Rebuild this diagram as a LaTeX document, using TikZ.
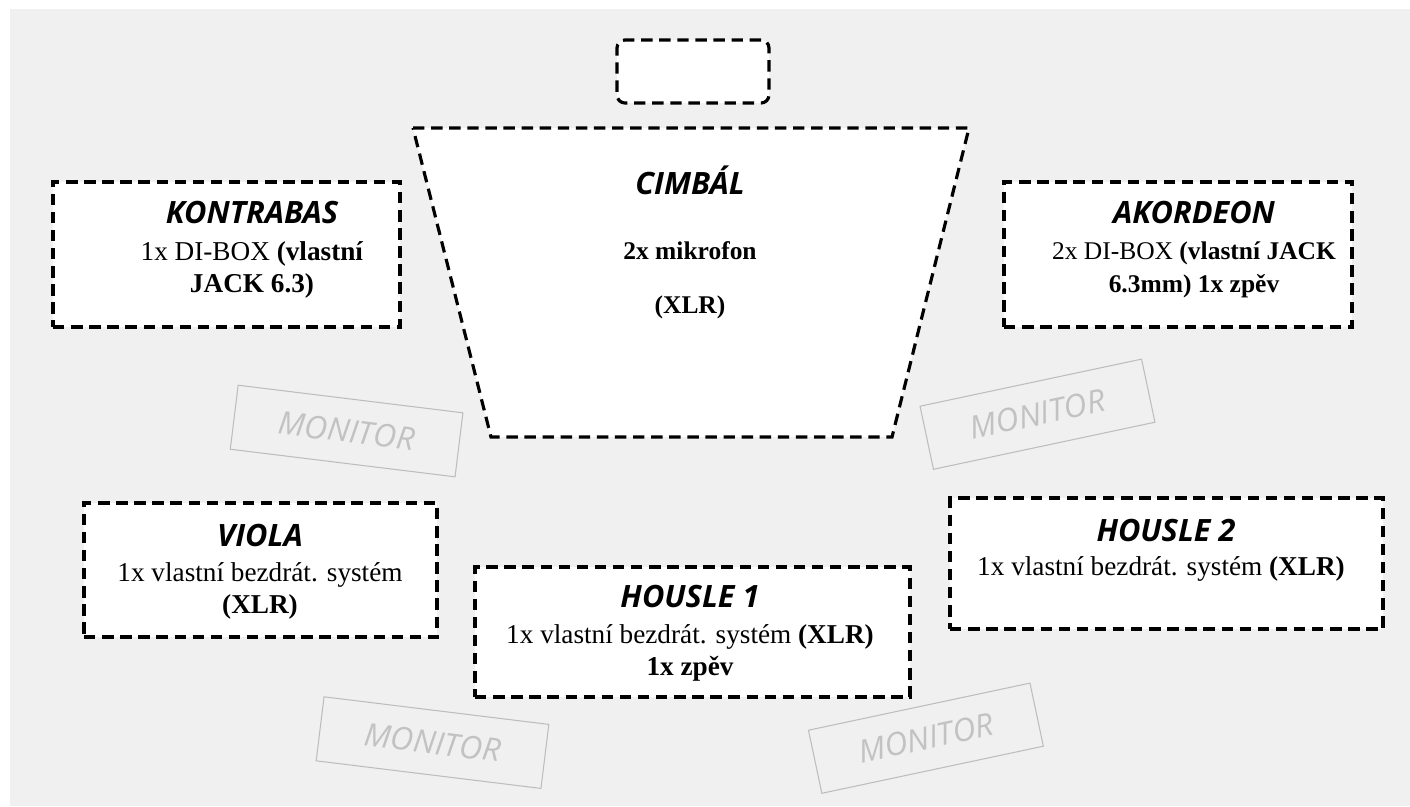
\documentclass[tikz,border=0pt]{standalone}
\usepackage{fontspec}
\setmainfont{Liberation Serif}
\newfontfamily\headfont{Open Sans}
\usetikzlibrary{positioning}

\definecolor{stagegray}{HTML}{F0F0F0}
\definecolor{monline}{HTML}{BDBDBD}
\definecolor{montext}{HTML}{C2C2C2}

\tikzset{
    zone/.style={draw, dash pattern=on 6.5pt off 3.8pt, line width=1.8pt,
        fill=white, inner sep=0pt},
    monitor/.style={draw=monline, line width=0.6pt, fill=stagegray,
        minimum width=4.53cm, minimum height=1.29cm, inner sep=0pt,
        text=montext, font=\headfont\itshape\fontsize{18}{21}\selectfont},
    heading/.style={anchor=base, font=\headfont\bfseries\itshape\fontsize{17.5}{20}\selectfont},
    info/.style={align=center, font=\fontsize{15.5}{18.5}\selectfont},
    boldinfo/.style={align=center, font=\fontsize{14.5}{18.5}\selectfont},
}

\begin{document}
\begin{tikzpicture}[x=0.02cm, y=-0.02cm]
    \useasboundingbox (0,0) rectangle (1410,806);
    \fill[stagegray] (10,9) rectangle (1410,806);

    % Monitors
    \node[monitor, rotate=-7] (mon1) at (346.6,431) {MONITOR};
    \node[monitor, rotate=12] (mon2) at (1037.5,414.2) {MONITOR};
    \node[monitor, rotate=-7] (mon3) at (432.5,742.6) {MONITOR};
    \node[monitor, rotate=12] (mon4) at (925.9,738.2) {MONITOR};

    % Cimbal
    \coordinate (ctl) at (413,128);
    \coordinate (ctr) at (969,128);
    \coordinate (cbr) at (892,437);
    \coordinate (cbl) at (491,437);
    \draw[zone] (ctl) -- (ctr) -- (cbr) -- (cbl) -- cycle;
    \node[zone, rounded corners=4.5pt, minimum width=3.04cm, minimum height=1.26cm] (seat) at (693,71.5) {};
    \node[heading] (cimh) at (690,194) {CIMBÁL};
    \node[boldinfo] (cimi) at (690,280) {\textbf{2x mikrofon}\\[12pt]\textbf{(XLR)}};

    % Kontrabas
    \node[zone, minimum width=6.94cm, minimum height=2.9cm] (kon) at (226.5,254.5) {};
    \node[heading] (konh) at (252,223) {KONTRABAS};
    \node[info] (koni) at (252,270) {1x DI-BOX \textbf{(vlastní}\\\textbf{JACK 6.3)}};

    % Akordeon
    \node[zone, minimum width=6.96cm, minimum height=2.9cm] (ako) at (1178,254.5) {};
    \node[heading] (akoh) at (1194,223) {AKORDEON};
    \node[boldinfo] (akoi) at (1194,270) {2x DI-BOX \textbf{(vlastní JACK}\\\textbf{6.3mm) 1x zpěv}};

    % Viola
    \node[zone, minimum width=7.06cm, minimum height=2.68cm] (vio) at (260.5,570) {};
    \node[heading] (vioh) at (260,546) {VIOLA};
    \node[info] (vioi) at (260,591) {1x vlastní bezdrát. systém\\\textbf{(XLR)}};

    % Housle 1
    \node[zone, minimum width=8.7cm, minimum height=2.6cm] (hou1) at (692.5,632) {};
    \node[heading] (hou1h) at (690,607) {HOUSLE 1};
    \node[info] (hou1i) at (690,653) {1x vlastní bezdrát. systém \textbf{(XLR)}\\\textbf{1x zpěv}};

    % Housle 2
    \node[zone, minimum width=8.66cm, minimum height=2.62cm] (hou2) at (1166.5,563.5) {};
    \node[heading] (hou2h) at (1166,541) {HOUSLE 2};
    \node[info] (hou2i) at (1161,569) {1x vlastní bezdrát. systém \textbf{(XLR)}};
\end{tikzpicture}
\end{document}
